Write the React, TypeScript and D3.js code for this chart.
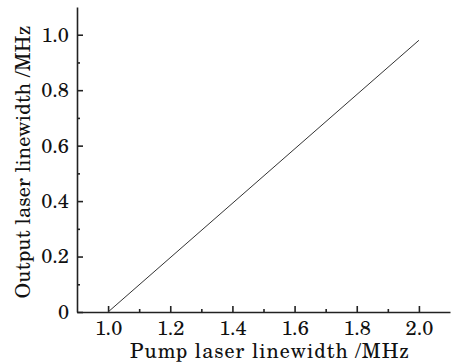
import React, { useRef, useEffect } from "react";
import * as d3 from "d3";

const pumpWidths = [1.0, 2.0];
const outputWidths = [0, 0.98];
const xTickValues = [1.0, 1.2, 1.4, 1.6, 1.8, 2.0];
const yTickValues = [0, 0.2, 0.4, 0.6, 0.8, 1.0];

export default function App() {
  const svgRef = useRef<SVGSVGElement>(null);

  useEffect(() => {
    const root = d3.select(svgRef.current);
    root.selectAll("*").remove();

    const width = 462;
    const height = 364;
    const left = 77;
    const right = 450;
    const top = 7;
    const bottom = 312;
    const font = "'Century Schoolbook', 'TeX Gyre Schola', 'DejaVu Serif', serif";

    const x = d3.scaleLinear().domain([0.9, 2.1]).range([left, right]);
    const y = d3.scaleLinear().domain([0, 1.1]).range([bottom, top]);

    root.attr("width", width).attr("height", height);
    const g = root.append("g");

    // minor ticks every 0.1
    const xMinor = d3.range(1.1, 2.1, 0.2);
    const yMinor = d3.range(0.1, 1.1, 0.2);

    g.append("g")
      .attr("transform", `translate(0,${bottom})`)
      .call(d3.axisBottom(x).tickValues(xMinor).tickSize(-3).tickFormat(() => ""))
      .call((s) => s.select(".domain").remove());
    g.append("g")
      .attr("transform", `translate(${left},0)`)
      .call(d3.axisLeft(y).tickValues(yMinor).tickSize(-3).tickFormat(() => ""))
      .call((s) => s.select(".domain").remove());

    const xAxis = g
      .append("g")
      .attr("transform", `translate(0,${bottom})`)
      .call(
        d3
          .axisBottom(x)
          .tickValues(xTickValues)
          .tickSizeInner(-6)
          .tickSizeOuter(0)
          .tickPadding(9)
          .tickFormat(d3.format(".1f"))
      );
    const yAxis = g
      .append("g")
      .attr("transform", `translate(${left},0)`)
      .call(
        d3
          .axisLeft(y)
          .tickValues(yTickValues)
          .tickSizeInner(-6)
          .tickSizeOuter(0)
          .tickPadding(8)
          .tickFormat((d) => (d === 0 ? "0" : d3.format(".1f")(d as number)))
      );

    [xAxis, yAxis].forEach((a) => {
      a.selectAll("text").attr("font-family", font).attr("font-size", 20).attr("fill", "#111");
    });
    g.selectAll("path.domain, line").attr("stroke", "#222").attr("stroke-width", 1.6);

    const line = d3
      .line<number>()
      .x((d) => x(d))
      .y((_, i) => y(outputWidths[i]));

    g.append("path")
      .datum(pumpWidths)
      .attr("d", line)
      .attr("fill", "none")
      .attr("stroke", "#333")
      .attr("stroke-width", 1);

    g.append("text")
      .attr("x", 270)
      .attr("y", 358)
      .attr("text-anchor", "middle")
      .attr("font-family", font)
      .attr("font-size", 20)
      .attr("letter-spacing", 1)
      .attr("fill", "#111")
      .text("Pump laser linewidth /MHz");

    g.append("text")
      .attr("transform", `translate(30,162) rotate(-90)`)
      .attr("text-anchor", "middle")
      .attr("font-family", font)
      .attr("font-size", 20)
      .attr("letter-spacing", 0.2)
      .attr("fill", "#111")
      .text("Output laser linewidth /MHz");
  }, []);

  return (
    <svg
      ref={svgRef}
      style={{ position: "absolute", left: 0, top: 0, background: "#fff" }}
    ></svg>
  );
}
